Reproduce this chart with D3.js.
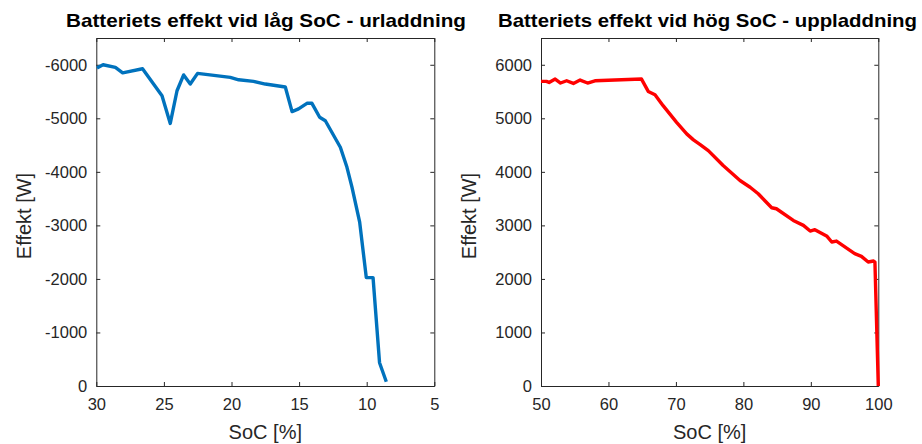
<!DOCTYPE html>
<html>
<head>
<meta charset="utf-8">
<script src="https://cdn.jsdelivr.net/npm/d3@7"></script>
<style>
  html, body { margin: 0; padding: 0; background: #fff; }
  svg { display: block; }
  text { font-family: "Liberation Sans", Arial, Helvetica, sans-serif; fill: #262626; }
</style>
</head>
<body>
<svg id="chart" width="922" height="444"></svg>
<script>
// ---- Data ----
// Left: discharge at low SoC
const lowSoc = [29.95, 29.5, 28.59, 28.05, 26.58, 25.14, 24.53, 24.03, 23.54, 23.05, 22.51, 20.09, 19.47, 18.37, 17.5, 16.02, 15.52, 15.04, 14.42, 14.05, 13.48, 13.06, 11.95, 11.46, 11.09, 10.52, 10.03, 9.53, 9.05, 8.55];
const lowPower = [-5940, -6000, -5950, -5850, -5925, -5420, -4905, -5515, -5810, -5640, -5840, -5765, -5720, -5690, -5640, -5585, -5125, -5175, -5280, -5280, -5020, -4955, -4460, -4085, -3715, -3060, -2025, -2025, -435, -80];
// Right: charge at high SoC
const highSoc = [50.0, 50.8, 51.2, 52.1, 52.9, 53.8, 54.8, 55.8, 56.9, 58.0, 64.9, 65.9, 66.9, 68.1, 70.1, 71.6, 72.6, 73.6, 74.8, 77.0, 79.5, 81.0, 82.2, 84.2, 84.9, 87.4, 88.9, 89.9, 90.6, 92.4, 93.1, 93.8, 96.5, 97.5, 98.5, 99.3, 99.5, 100.0];
const highPower = [5690, 5690, 5670, 5733, 5659, 5701, 5651, 5714, 5659, 5701, 5733, 5502, 5441, 5236, 4925, 4709, 4597, 4509, 4397, 4118, 3838, 3713, 3590, 3330, 3311, 3093, 3000, 2894, 2920, 2795, 2689, 2707, 2472, 2422, 2316, 2335, 2316, 0];

const leftXTicks = [30, 25, 20, 15, 10, 5];
const leftYTicks = [0, -1000, -2000, -3000, -4000, -5000, -6000];
const rightXTicks = [50, 60, 70, 80, 90, 100];
const rightYTicks = [0, 1000, 2000, 3000, 4000, 5000, 6000];

const titles = ["Batteriets effekt vid låg SoC - urladdning", "Batteriets effekt vid hög SoC - uppladdning"];
const xLabel = "SoC [%]";
const yLabel = "Effekt [W]";

// ---- Layout ----
const svg = d3.select("#chart");
const plotTop = 38, plotBottom = 386;
const axisColor = "#262626";

function panel(opts) {
  const x = d3.scaleLinear().domain(opts.xDomain).range([opts.left, opts.right]);
  const y = d3.scaleLinear().domain(opts.yDomain).range([plotBottom, plotTop]);
  const g = svg.append("g");
  const tl = 4;

  const ax = g.append("g").attr("transform", `translate(0,${plotBottom})`)
    .call(d3.axisBottom(x).tickValues(opts.xTicks).tickSizeInner(-tl).tickSizeOuter(0).tickPadding(10).tickFormat(d => String(d)));
  const axT = g.append("g").attr("transform", `translate(0,${plotTop})`)
    .call(d3.axisTop(x).tickValues(opts.xTicks).tickSizeInner(-tl).tickSizeOuter(0).tickFormat(""));
  const ay = g.append("g").attr("transform", `translate(${opts.left},0)`)
    .call(d3.axisLeft(y).tickValues(opts.yTicks).tickSizeInner(-tl).tickSizeOuter(0).tickPadding(9).tickFormat(d => String(d)));
  const ayR = g.append("g").attr("transform", `translate(${opts.right},0)`)
    .call(d3.axisRight(y).tickValues(opts.yTicks).tickSizeInner(-tl).tickSizeOuter(0).tickFormat(""));

  [ax, axT, ay, ayR].forEach(a => {
    a.select(".domain").attr("stroke", axisColor).attr("stroke-width", 1);
    a.selectAll(".tick line").attr("stroke", axisColor).attr("stroke-width", 1);
    a.selectAll("text").attr("font-size", 16.5).attr("fill", axisColor)
      .style("font-family", '"Liberation Sans", Arial, Helvetica, sans-serif');
  });
  ax.selectAll(".tick text").attr("dy", "0.85em");

  const data = opts.xs.map((v, i) => [v, opts.ys[i]]);
  g.append("path")
    .datum(data)
    .attr("fill", "none")
    .attr("stroke", opts.color)
    .attr("stroke-width", 3.4)
    .attr("stroke-linejoin", "round")
    .attr("stroke-linecap", "butt")
    .attr("d", d3.line().x(d => x(d[0])).y(d => y(d[1])));

  g.append("text")
    .attr("x", opts.titleCenter)
    .attr("y", 27)
    .attr("text-anchor", "middle")
    .attr("font-size", 18.5)
    .attr("font-weight", "bold")
    .attr("textLength", opts.titleWidth)
    .attr("lengthAdjust", "spacingAndGlyphs")
    .style("fill", "#000")
    .text(opts.title);

  g.append("text")
    .attr("x", (opts.left + opts.right) / 2)
    .attr("y", 439)
    .attr("text-anchor", "middle")
    .attr("font-size", 20)
    .text(xLabel);

  g.append("text")
    .attr("transform", `translate(${opts.left - 65},${(plotTop + plotBottom) / 2 + 4}) rotate(-90)`)
    .attr("text-anchor", "middle")
    .attr("font-size", 20)
    .text(yLabel);
}

panel({
  left: 96.3, right: 434.3,
  xDomain: [30, 5], yDomain: [0, -6500],
  xTicks: leftXTicks, yTicks: leftYTicks,
  xs: lowSoc, ys: lowPower, color: "#0072BD",
  title: titles[0], titleCenter: 266, titleWidth: 400
});

panel({
  left: 541, right: 878.3,
  xDomain: [50, 100], yDomain: [0, 6500],
  xTicks: rightXTicks, yTicks: rightYTicks,
  xs: highSoc, ys: highPower, color: "#FF0000",
  title: titles[1], titleCenter: 707.5, titleWidth: 419
});
</script>
</body>
</html>
